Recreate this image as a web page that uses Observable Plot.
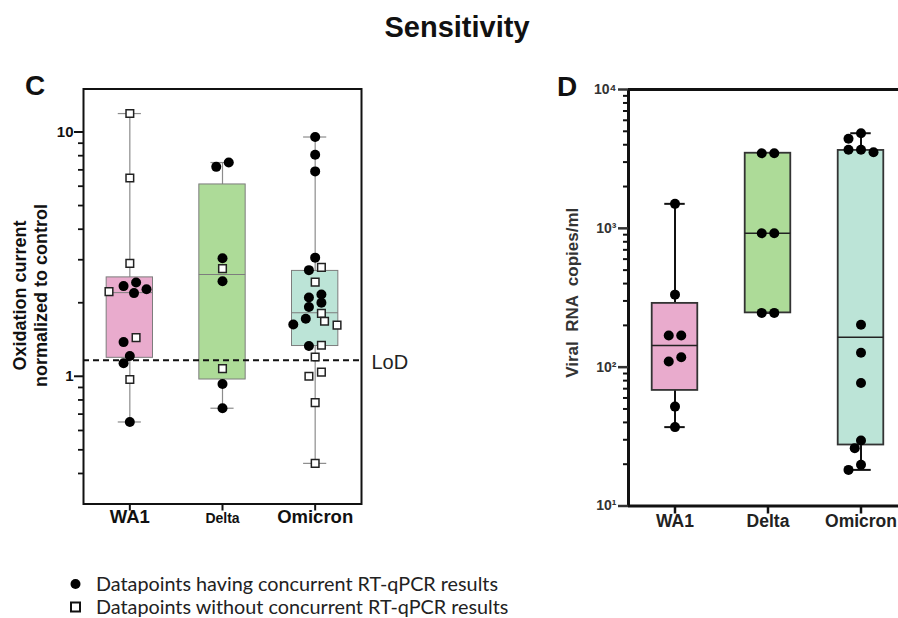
<!DOCTYPE html>
<html><head><meta charset="utf-8">
<script src="https://cdn.jsdelivr.net/npm/d3@7"></script>
<script src="https://cdn.jsdelivr.net/npm/@observablehq/plot@0.6"></script>
<style>
body{margin:0;background:#fff;}
#page{position:relative;width:898px;height:618px;overflow:hidden;font-family:"Liberation Sans",Arial,sans-serif;color:#111;}
.abs{position:absolute;}
.letter{font-weight:bold;font-size:28px;line-height:28px;}
.leg{font-family:Lato,"Open Sans",sans-serif;font-size:19.8px;color:#222;line-height:23px;white-space:nowrap;}
.leg svg{vertical-align:middle;margin-right:13px;position:relative;top:-2px;}
svg text{white-space:pre;}
</style></head><body><div id="page"></div>
<script>
// ---------- data ----------
const variants = ["WA1", "Delta", "Omicron"];
const boxColors = ["#e9abcd", "#addb98", "#bce4d7"];

// Panel C: oxidation current normalized to control (1 = has concurrent RT-qPCR result, 0 = without)
const cWA1 = [11.9, 6.48, 2.90, 2.42, 2.34, 2.27, 2.22, 2.19, 1.44, 1.38, 1.21, 1.13, 0.97, 0.65];
const cWA1Pcr = [0, 0, 0, 1, 1, 1, 0, 1, 0, 1, 1, 1, 0, 1];
const cDelta = [7.5, 7.2, 3.04, 2.76, 2.45, 1.075, 0.93, 0.74];
const cDeltaPcr = [1, 1, 1, 0, 1, 0, 1, 1];
const cOmicron = [9.54, 8.07, 6.9, 3.06, 2.79, 2.72, 2.43, 2.16, 2.10, 2.0, 1.92, 1.81, 1.72, 1.68, 1.63, 1.62, 1.34, 1.33, 1.20, 1.04, 1.0, 0.78, 0.44];
const cOmicronPcr = [1, 1, 1, 1, 0, 1, 0, 1, 1, 1, 1, 0, 1, 0, 1, 0, 0, 1, 0, 0, 0, 0, 0];
const cMin = [0.65, 0.74, 0.44];
const cQ1 = [1.19, 0.97, 1.33];
const cMedian = [2.2, 2.61, 1.82];
const cQ3 = [2.54, 6.1, 2.70];
const cMax = [11.9, 7.5, 9.54];
const lodValue = 1.163;
const cMajorTicks = [1, 10];
const cMinorTicks = [0.4, 0.5, 0.6, 0.7, 0.8, 0.9, 2, 3, 4, 5, 6, 7, 8, 9];

// Panel D: viral RNA copies/ml
const dWA1 = [1501, 333, 169, 169, 118, 110, 52, 37];
const dDelta = [3475, 3475, 922, 922, 246, 246];
const dOmicron = [4842, 4416, 3681, 3681, 3536, 202, 127, 77, 29.6, 26.1, 19.8, 18.2];
const dMin = [37, 246, 18.2];
const dQ1 = [68, 246, 27.5];
const dMedian = [143, 922, 164];
const dQ3 = [288, 3475, 3640];
const dMax = [1501, 3475, 4842];
const dMajorTicks = [10, 100, 1000, 10000];
const dMajorLabels = ["10\u00b9", "10\u00b2", "10\u00b3", "10\u2074"];
const dMinorTicks = [20, 30, 40, 50, 60, 70, 80, 90, 200, 300, 400, 500, 600, 700, 800, 900, 2000, 3000, 4000, 5000, 6000, 7000, 8000, 9000];

const legendItems = ["Datapoints having concurrent RT-qPCR results", "Datapoints without concurrent RT-qPCR results"];

// ---------- helpers ----------
const page = document.getElementById("page");
const FONT = "Liberation Sans, Arial, sans-serif";

// simple beeswarm: greedy placement in pixel space, then symmetric recentering of equal rows
function swarm(values, yPix, collide, step) {
  const idx = d3.range(values.length).sort((a, b) => yPix(values[a]) - yPix(values[b]));
  const placed = [];
  const off = new Array(values.length).fill(0);
  for (const i of idx) {
    const y = yPix(values[i]);
    for (let k = 0; k < 60; k++) {
      const o = k === 0 ? 0 : (k % 2 ? -1 : 1) * Math.ceil(k / 2) * step;
      if (placed.every(p => Math.hypot(p.x - o, p.y - y) >= collide)) {
        off[i] = o; placed.push({x: o, y}); break;
      }
    }
  }
  let g = [];
  const flush = () => {
    if (g.length > 1) {
      const m = d3.mean(g, i => off[i]);
      g.forEach(i => off[i] -= m);
    }
  };
  for (const i of idx) {
    if (g.length && yPix(values[i]) - yPix(values[g[0]]) > 5) { flush(); g = []; }
    g.push(i);
  }
  flush();
  return off;
}

function buildPoints(groups, flags, yScale, pxPerUnit) {
  const pts = [];
  groups.forEach((vals, gi) => {
    const off = swarm(vals, v => yScale.apply(v), 9.5, 6.25);
    vals.forEach((v, j) => pts.push({
      i: gi, value: v, pcr: flags ? flags[gi][j] : 1, x: gi + off[j] / pxPerUnit
    }));
  });
  return pts;
}

// ---------- Panel C ----------
{
  const W = 440, H = 540, mL = 83, mR = 79, mT = 88.5, mB = 36.5;
  const yScale = Plot.scale({y: {type: "log", domain: [0.3, 15], range: [H - mB, mT]}});
  const pxPerUnit = (W - mL - mR) / 3;
  const pts = buildPoints([cWA1, cDelta, cOmicron], [cWA1Pcr, cDeltaPcr, cOmicronPcr], yScale, pxPerUnit);
  const stats = variants.map((v, i) => ({i, name: v, color: boxColors[i], min: cMin[i], q1: cQ1[i], med: cMedian[i], q3: cQ3[i], max: cMax[i]}));
  const chart = Plot.plot({
    width: W, height: H, marginLeft: mL, marginRight: mR, marginTop: mT, marginBottom: mB,
    style: {fontFamily: FONT, background: "transparent", overflow: "visible"},
    x: {domain: [-0.5, 2.5]},
    y: {type: "log", domain: [0.3, 15]},
    color: {type: "identity"},
    marks: [
      Plot.ruleX(stats, {x: "i", y1: "min", y2: "max", stroke: "#8c8c8c", strokeWidth: 1.2}),
      Plot.ruleY(stats, {y: "min", x1: d => d.i - 0.125, x2: d => d.i + 0.125, stroke: "#8c8c8c", strokeWidth: 1.2}),
      Plot.ruleY(stats, {y: "max", x1: d => d.i - 0.125, x2: d => d.i + 0.125, stroke: "#8c8c8c", strokeWidth: 1.2}),
      Plot.rect(stats, {x1: d => d.i - 0.25, x2: d => d.i + 0.25, y1: "q1", y2: "q3", fill: "color", stroke: "#7d7d7d", strokeWidth: 1}),
      Plot.ruleY(stats, {y: "med", x1: d => d.i - 0.25, x2: d => d.i + 0.25, stroke: "#7d7d7d", strokeWidth: 1}),
      Plot.ruleY([lodValue], {stroke: "#111", strokeWidth: 1.8, strokeDasharray: "6,4"}),
      Plot.text([lodValue], {y: d => d, text: () => "LoD", frameAnchor: "right", textAnchor: "start", dx: 10, dy: 2, fontSize: 20, fill: "#222"}),
      Plot.dot(pts.filter(d => !d.pcr), {x: "x", y: "value", symbol: "square", r: 4.3, fill: "white", stroke: "#222", strokeWidth: 1.5}),
      Plot.dot(pts.filter(d => d.pcr), {x: "x", y: "value", r: 5, fill: "#000"}),
      Plot.frame({stroke: "#111", strokeWidth: 2}),
      Plot.axisY(cMajorTicks, {tickSize: 9, tickPadding: 1, tickFormat: d => String(d), fontSize: 15, fontWeight: "bold", strokeWidth: 2, color: "#111", label: null}),
      Plot.axisY(cMinorTicks, {tickSize: 5, tickFormat: () => "", strokeWidth: 1.8, color: "#111", label: null}),
      Plot.axisX([0, 1, 2], {tickSize: 7, tickFormat: () => "", strokeWidth: 2, color: "#111", label: null}),
      Plot.text(variants, {x: (d, i) => i, frameAnchor: "bottom", dy: 19, fontSize: d => d === "Delta" ? 14 : 18.5, fontWeight: "bold", fill: "#111"}),
      Plot.text(["Oxidation current\nnormalized to control"], {frameAnchor: "left", textAnchor: "middle", dx: -54, dy: -1, rotate: -90, fontSize: 18, fontWeight: "bold", lineHeight: 1.17, fill: "#111"})
    ]
  });
  chart.classList.add("abs");
  chart.style.left = "0px"; chart.style.top = "0px";
  page.appendChild(chart);
}

// ---------- Panel D ----------
{
  const W = 380, H = 540, mL = 88, mR = 13, mT = 89, mB = 34.5;
  const yScale = Plot.scale({y: {type: "log", domain: [10, 10000], range: [H - mB, mT]}});
  const pxPerUnit = (W - mL - mR) / 3;
  const pts = buildPoints([dWA1, dDelta, dOmicron], null, yScale, pxPerUnit);
  const stats = variants.map((v, i) => ({i, name: v, color: boxColors[i], min: dMin[i], q1: dQ1[i], med: dMedian[i], q3: dQ3[i], max: dMax[i]}));
  const chart = Plot.plot({
    width: W, height: H, marginLeft: mL, marginRight: mR, marginTop: mT, marginBottom: mB,
    style: {fontFamily: FONT, background: "transparent", overflow: "visible"},
    x: {domain: [-0.5, 2.5]},
    y: {type: "log", domain: [10, 10000]},
    color: {type: "identity"},
    marks: [
      Plot.ruleX(stats, {x: "i", y1: "min", y2: "max", stroke: "#111", strokeWidth: 2}),
      Plot.ruleY(stats, {y: "min", x1: d => d.i - 0.11, x2: d => d.i + 0.11, stroke: "#111", strokeWidth: 2}),
      Plot.ruleY(stats, {y: "max", x1: d => d.i - 0.11, x2: d => d.i + 0.11, stroke: "#111", strokeWidth: 2}),
      Plot.rect(stats, {x1: d => d.i - 0.245, x2: d => d.i + 0.245, y1: "q1", y2: "q3", fill: "color", stroke: "#333", strokeWidth: 1.8}),
      Plot.ruleY(stats, {y: "med", x1: d => d.i - 0.245, x2: d => d.i + 0.245, stroke: "#222", strokeWidth: 1.5}),
      Plot.dot(pts, {x: "x", y: "value", r: 5, fill: "#000"}),
      Plot.ruleX([-0.5], {stroke: "#111", strokeWidth: 3}),
      Plot.ruleY([10], {stroke: "#111", strokeWidth: 3}),
      Plot.ruleY([10000], {stroke: "#111", strokeWidth: 3}),
      Plot.axisY(dMajorTicks, {tickSize: 10, tickPadding: 2, tickFormat: d => dMajorLabels[dMajorTicks.indexOf(d)], fontSize: 14, fontWeight: "bold", strokeWidth: 2.5, color: "#333", label: null}),
      Plot.axisY(dMinorTicks, {tickSize: 5, tickFormat: () => "", strokeWidth: 2, color: "#111", label: null}),
      Plot.axisX([0, 1, 2], {tickSize: 8, tickFormat: () => "", strokeWidth: 2.5, color: "#111", label: null}),
      Plot.text(variants, {x: (d, i) => i, frameAnchor: "bottom", dy: 21, fontSize: 17.5, fontWeight: "bold", fill: "#222"}),
      Plot.text(["Viral  RNA  copies/ml"], {frameAnchor: "left", textAnchor: "middle", dx: -56, dy: -5, rotate: -90, fontSize: 17, fontWeight: "bold", fill: "#333"})
    ]
  });
  chart.classList.add("abs");
  chart.style.left = "540px"; chart.style.top = "0px";
  page.appendChild(chart);
}

// ---------- Title, letters, legend ----------
{
  const title = document.createElement("div");
  title.className = "abs";
  title.style.cssText = "left:8px;top:11px;width:898px;text-align:center;font-weight:bold;font-size:29px;line-height:32px;";
  title.textContent = "Sensitivity";
  page.appendChild(title);

  const c = document.createElement("div");
  c.className = "abs letter"; c.style.left = "25px"; c.style.top = "72px"; c.textContent = "C";
  page.appendChild(c);
  const dl = document.createElement("div");
  dl.className = "abs letter"; dl.style.left = "557px"; dl.style.top = "73px"; dl.textContent = "D";
  page.appendChild(dl);

  const leg = document.createElement("div");
  leg.className = "abs leg";
  leg.style.left = "69px"; leg.style.top = "572px";
  const symbols = [
    '<svg width="14" height="14"><circle cx="6.5" cy="7" r="5" fill="#000"/></svg>',
    '<svg width="14" height="14"><rect x="2" y="2.5" width="9" height="9" fill="white" stroke="#111" stroke-width="2"/></svg>'
  ];
  leg.innerHTML = legendItems.map((t, i) => `<div>${symbols[i]}${t}</div>`).join("");
  page.appendChild(leg);
}
</script>
</body></html>
